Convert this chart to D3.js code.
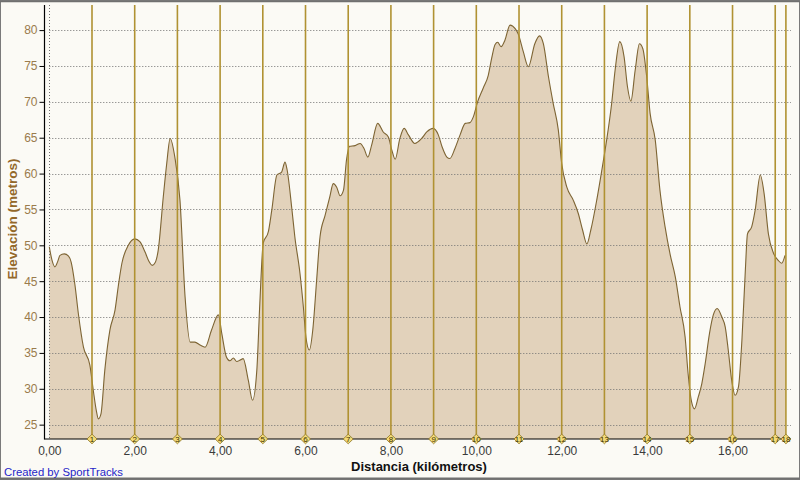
<!DOCTYPE html>
<html><head><meta charset="utf-8">
<script src="https://cdn.jsdelivr.net/npm/d3@7"></script>
<style>
html,body{margin:0;padding:0;background:#fbfaf5;}
svg{display:block;}
text{font-family:"Liberation Sans",Arial,sans-serif;}
</style></head>
<body><svg id="c" width="800" height="480"></svg>
<script>
const distKm = [0.00,0.06,0.13,0.20,0.25,0.35,0.45,0.51,0.60,0.68,0.80,0.95,1.03,1.10,1.15,1.21,1.30,1.42,1.54,1.62,1.70,1.85,2.00,2.12,2.24,2.33,2.41,2.48,2.55,2.67,2.75,2.83,2.94,3.06,3.18,3.30,3.41,3.53,3.65,3.80,3.96,4.04,4.15,4.23,4.31,4.39,4.47,4.54,4.66,4.76,4.86,4.93,5.01,5.13,5.21,5.33,5.44,5.52,5.57,5.68,5.75,5.87,5.95,6.01,6.09,6.17,6.26,6.34,6.46,6.57,6.65,6.73,6.81,6.89,6.96,7.03,7.16,7.28,7.37,7.46,7.55,7.69,7.82,7.94,8.02,8.10,8.21,8.31,8.41,8.56,8.72,8.84,8.99,9.11,9.20,9.31,9.38,9.50,9.62,9.74,9.85,9.93,10.03,10.16,10.28,10.36,10.44,10.50,10.58,10.67,10.79,10.91,10.98,11.10,11.22,11.37,11.48,11.57,11.69,11.80,11.92,12.00,12.12,12.27,12.39,12.49,12.59,12.68,12.82,12.94,13.04,13.17,13.25,13.36,13.46,13.54,13.62,13.72,13.82,13.90,13.99,14.07,14.19,14.30,14.42,14.54,14.66,14.77,14.89,14.96,15.04,15.11,15.20,15.28,15.36,15.46,15.55,15.64,15.75,15.83,15.90,15.98,16.06,16.14,16.22,16.30,16.35,16.45,16.53,16.65,16.74,16.84,16.96,17.07,17.15,17.23];
const elevM = [49.8,48.0,47.0,47.8,48.6,48.8,48.5,47.7,44.5,40.5,35.8,33.3,29.8,27.0,25.8,26.5,32.6,38.2,41.0,44.5,47.5,50.0,50.9,50.5,49.1,47.8,47.2,47.6,49.3,56.8,61.4,64.9,62.3,56.3,42.8,36.5,36.5,36.1,35.8,38.2,40.3,37.7,34.4,33.9,34.3,33.8,34.0,34.2,31.2,28.4,32.6,41.9,50.3,51.9,54.9,59.8,60.2,61.6,60.5,55.1,51.2,46.1,41.4,37.2,35.4,38.2,45.1,51.2,54.2,56.8,58.6,58.1,56.9,57.7,61.9,63.8,63.9,64.2,63.5,62.3,64.0,67.0,65.8,65.1,63.3,62.0,64.9,66.3,65.4,64.2,64.9,65.8,66.3,65.4,63.7,62.3,62.1,63.5,65.4,67.0,67.1,67.9,70.0,71.9,73.7,76.1,78.0,78.3,77.7,78.6,80.7,80.2,79.5,77.0,74.9,78.1,79.2,78.1,73.5,69.8,66.1,61.4,58.1,56.3,54.4,52.1,50.2,52.1,56.3,60.5,64.2,69.8,74.4,78.4,76.3,72.1,70.1,74.4,78.1,77.4,73.5,68.4,64.7,57.7,52.6,48.7,45.6,41.4,37.2,32.1,28.2,27.2,28.9,30.7,33.5,37.7,40.3,41.2,40.0,38.6,35.4,31.2,29.1,30.3,36.8,46.5,51.6,52.6,54.9,59.8,57.2,51.6,48.9,47.9,47.5,48.6];
const markerKm = [1,2,3,4,5,6,7,8,9,10,11,12,13,14,15,16,17,17.25];
const markerLabels = ["1","2","3","4","5","6","7","8","9","10","11","12","13","14","15","16","17","18"];
const xTicks = [0,2,4,6,8,10,12,14,16];
const yTicks = [25,30,35,40,45,50,55,60,65,70,75,80];
const xTitle = "Distancia (kilómetros)";
const yTitle = "Elevación (metros)";
const credit = "Created by SportTracks";

(function(){
const svg = d3.select("#c");
const W = 800, H = 480;
const pLeft = 49.3, pRight = 785.9, pTop = 5, pBottom = 439, axisX = 44.5, gridRight = 791;
const x = d3.scaleLinear().domain([0, 17.25]).range([pLeft, pRight]);
const y = d3.scaleLinear().domain([23, 83.5]).range([pBottom, pTop]);
const data = distKm.map((d,i)=>({d, e: elevM[i]}));

svg.append("rect").attr("x",0).attr("y",0).attr("width",W).attr("height",H).attr("fill","#fbfaf5");
svg.append("rect").attr("x",0.5).attr("y",0.5).attr("width",W-1).attr("height",H-1)
  .attr("fill","none").attr("stroke","#7a7a7a").attr("stroke-width",1);
svg.append("line").attr("x1",0).attr("x2",W).attr("y1",1.5).attr("y2",1.5).attr("stroke","#707070").attr("stroke-width",1.5);
svg.append("line").attr("x1",0).attr("x2",W).attr("y1",478.5).attr("y2",478.5).attr("stroke","#707070").attr("stroke-width",2);

const area = d3.area().x(d=>x(d.d)).y0(pBottom).y1(d=>y(d.e)).curve(d3.curveMonotoneX);
const line = d3.line().x(d=>x(d.d)).y(d=>y(d.e)).curve(d3.curveMonotoneX);
svg.append("path").datum(data).attr("d",area).attr("fill","#e2d2bb");

const g = svg.append("g");
g.selectAll("line.h").data(yTicks).enter().append("line")
  .attr("x1",pLeft).attr("x2",gridRight).attr("y1",d=>Math.round(y(d))+0.5).attr("y2",d=>Math.round(y(d))+0.5)
  .attr("stroke","#707070").attr("stroke-width",1).attr("stroke-dasharray","1,2");
g.append("line").attr("x1",Math.round(pLeft)+0.5).attr("x2",Math.round(pLeft)+0.5).attr("y1",pTop).attr("y2",pBottom)
  .attr("stroke","#707070").attr("stroke-dasharray","1,2");

svg.append("path").datum(data).attr("d",line).attr("fill","none").attr("stroke","#7d6433").attr("stroke-width",1.1);

const mk = svg.append("g");
mk.selectAll("line").data(markerKm).enter().append("line")
  .attr("x1",d=>x(d)).attr("x2",d=>x(d)).attr("y1",pTop).attr("y2",pBottom)
  .attr("stroke","#b09232").attr("stroke-width",1.6);

const yAxis = d3.axisLeft(y).tickValues(yTicks).tickSize(5).tickPadding(2).tickFormat(d3.format("d"));
const ya = svg.append("g").attr("transform",`translate(${axisX},0)`).call(yAxis);
ya.select(".domain").remove();
ya.selectAll(".tick line").attr("stroke","#000");
ya.selectAll(".tick text").attr("fill","#9a7b4c").style("font-size","12px").style("font-family","Liberation Sans, Arial, sans-serif");
svg.append("line").attr("x1",axisX).attr("x2",axisX).attr("y1",pTop).attr("y2",pBottom+0.5).attr("stroke","#000").attr("stroke-width",1.2);

const xAxis = d3.axisBottom(x).tickValues(xTicks).tickSize(0).tickPadding(7)
  .tickFormat(d=>d3.format(".2f")(d).replace(".",","));
const xa = svg.append("g").attr("transform",`translate(0,${pBottom})`).call(xAxis);
xa.select(".domain").remove();
xa.selectAll(".tick text").attr("fill","#3a3a3a").style("font-size","12px").style("font-family","Liberation Sans, Arial, sans-serif");
svg.append("line").attr("x1",axisX).attr("x2",gridRight).attr("y1",pBottom).attr("y2",pBottom).attr("stroke","#000").attr("stroke-width",1.2);

const dm = svg.append("g").selectAll("g").data(markerKm).enter().append("g")
  .attr("transform",d=>`translate(${x(d)},${pBottom})`);
dm.append("path").attr("d","M0,-4.8 L5,0 L0,4.8 L-5,0 Z").attr("fill","#f3db78").attr("stroke","#8c7424").attr("stroke-width",0.8);
dm.append("text").text((d,i)=>markerLabels[i]).attr("text-anchor","middle").attr("y",3)
  .style("font-size","8px").attr("fill","#3a3000");

svg.append("text").text(xTitle).attr("x",419).attr("y",471).attr("text-anchor","middle")
  .style("font-size","13px").style("font-weight","bold").attr("fill","#111");
svg.append("text").text(yTitle).attr("transform","translate(17,219) rotate(-90)").attr("text-anchor","middle")
  .style("font-size","13.5px").style("font-weight","bold").attr("fill","#93682a");
svg.append("text").text(credit).attr("x",4).attr("y",476).style("font-size","11.3px").attr("fill","#2525c8");
})();
</script>
</body></html>
